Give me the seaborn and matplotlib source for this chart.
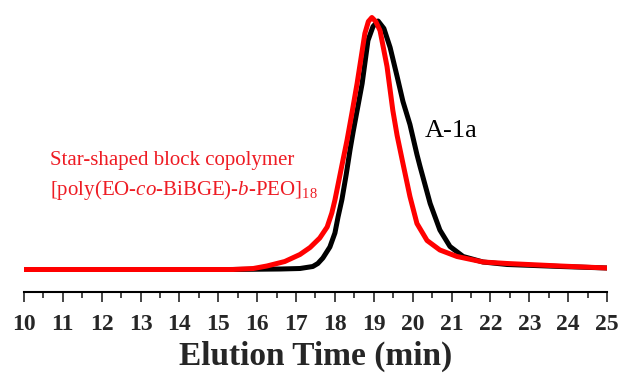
import pandas as pd
import matplotlib.pyplot as plt
import seaborn as sns
from matplotlib.ticker import MultipleLocator

# GPC traces (signal in arbitrary units)
time_a1a = [10.0, 15.3, 16.6, 17.1, 17.43, 17.56, 17.69, 17.87, 18.0, 18.08, 18.18, 18.29,
            18.39, 18.47, 18.7, 18.85, 18.98, 19.11, 19.26, 19.42, 19.6, 19.75, 19.93,
            20.11, 20.19, 20.45, 20.7, 20.96, 21.3, 21.81, 22.43, 23.8, 25.0]
sig_a1a = [0, 0, 0.5, 1, 3, 6, 11.5, 22.5, 36.5, 52.5, 70, 95,
           120, 138, 186, 229, 243, 248.5, 241, 222, 193, 168, 145,
           115, 103, 66, 39.5, 23, 13, 7.5, 5, 3, 1.5]

time_star = [10.0, 15.38, 15.9, 16.25, 16.71, 17.1, 17.36, 17.61, 17.8, 17.92, 18.0, 18.21,
             18.31, 18.44, 18.57, 18.77, 18.86, 18.95, 19.05, 19.16, 19.34, 19.49, 19.6,
             19.75, 19.93, 20.11, 20.37, 20.7, 21.14, 21.81, 22.43, 23.79, 25.0]
sig_star = [0, 0, 1, 3.5, 8, 15, 22, 31.5, 42.5, 56.5, 69.5, 110,
            129, 157, 186, 236, 248, 252, 248, 239, 203, 159, 134,
            106, 73, 46, 29, 19.5, 13, 7.5, 6, 3.5, 1.5]

df_a = pd.DataFrame({'time': time_a1a, 'signal': sig_a1a})
df_s = pd.DataFrame({'time': time_star, 'signal': sig_star})

sns.set_style('white')
plt.rcParams['font.family'] = ['Liberation Serif', 'DejaVu Serif']
plt.rcParams['mathtext.fontset'] = 'custom'
plt.rcParams['mathtext.rm'] = 'Liberation Serif'
plt.rcParams['mathtext.it'] = 'Liberation Serif:italic'

fig = plt.figure(figsize=(6.21, 3.78), dpi=100)
ax = fig.add_axes([24 / 621, 1 - 292 / 378, 583 / 621, 287 / 378])

sns.lineplot(data=df_a, x='time', y='signal', color='black', linewidth=3.6, ax=ax)
sns.lineplot(data=df_s, x='time', y='signal', color='#ff0000', linewidth=3.6, ax=ax)
for ln in ax.get_lines():
    ln.set_solid_joinstyle('round')

ax.set_xlim(10, 25)
ax.set_ylim(-22.5, 264.5)
ax.xaxis.set_major_locator(MultipleLocator(1))
ax.xaxis.set_minor_locator(MultipleLocator(0.5))
ax.set_yticks([])
ax.set_ylabel('')
ax.tick_params(axis='x', which='major', direction='out', length=7, width=1.2,
               bottom=True, pad=9, labelsize=17)
ax.tick_params(axis='x', which='minor', direction='out', length=4, width=1.2, bottom=True)
for t in ax.get_xticklabels():
    t.set_fontweight('bold')
ax.set_xlabel('Elution Time (min)', fontsize=24, fontweight='bold', labelpad=4)

sns.despine(ax=ax, left=True)
ax.spines['bottom'].set_linewidth(1.5)
ax.spines['bottom'].set_color('black')

ax.text(20.32, 132.5, 'A-1a', fontsize=19, color='black', ha='left', va='baseline')
ax.text(10.67, 104.5, 'Star-shaped block copolymer', fontsize=15, color='#ee1c24',
        ha='left', va='baseline')
ax.text(10.67, 74.5, r'[poly(EO-$\mathit{co}$-BiBGE)-$\mathit{b}$-PEO]$_{18}$', fontsize=15,
        color='#ee1c24', ha='left', va='baseline')

fig.savefig('out.png', dpi=100)
